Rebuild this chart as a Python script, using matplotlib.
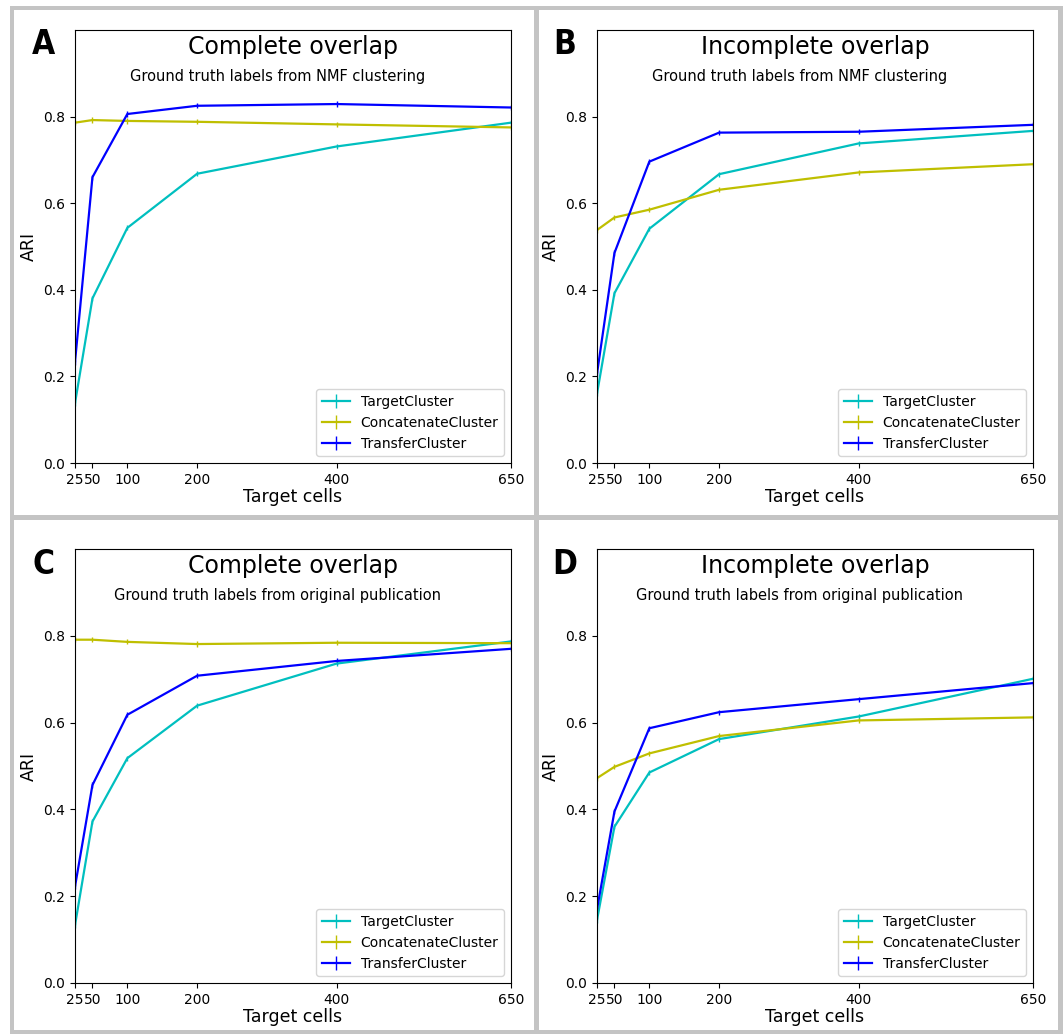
import numpy as np
import matplotlib
matplotlib.use("Agg")
import matplotlib.pyplot as plt
from matplotlib.patches import Rectangle

W, H = 1063, 1034

cells = [25, 50, 100, 200, 400, 650]
cell_labels = ["25", "50", "100", "200", "400", "650"]
methods = ["TargetCluster", "ConcatenateCluster", "TransferCluster"]
colors = ["c", "y", "b"]

letters = ["A", "B", "C", "D"]
titles = ["Complete overlap", "Incomplete overlap", "Complete overlap", "Incomplete overlap"]
subtitles = ["Ground truth labels from NMF clustering",
             "Ground truth labels from NMF clustering",
             "Ground truth labels from original publication",
             "Ground truth labels from original publication"]

# ARI per panel, order: target, concatenate, transfer
ari_A = [[0.138, 0.380, 0.543, 0.668, 0.731, 0.786],
         [0.786, 0.792, 0.790, 0.788, 0.782, 0.775],
         [0.233, 0.660, 0.806, 0.825, 0.829, 0.821]]
ari_B = [[0.160, 0.392, 0.541, 0.667, 0.738, 0.767],
         [0.538, 0.567, 0.585, 0.631, 0.671, 0.690],
         [0.206, 0.485, 0.696, 0.763, 0.765, 0.781]]
ari_C = [[0.133, 0.372, 0.518, 0.639, 0.736, 0.787],
         [0.791, 0.791, 0.786, 0.781, 0.784, 0.783],
         [0.222, 0.456, 0.618, 0.708, 0.742, 0.770]]
ari_D = [[0.145, 0.360, 0.485, 0.562, 0.614, 0.701],
         [0.472, 0.498, 0.529, 0.569, 0.605, 0.612],
         [0.170, 0.395, 0.587, 0.624, 0.654, 0.691]]
err = 0.006

panels = [ari_A, ari_B, ari_C, ari_D]

fig = plt.figure(figsize=(W / 100, H / 100), dpi=100)


def px_rect(x0, y0, x1, y1):
    # pixel box (top-left origin) -> figure fraction
    return [x0 / W, 1 - y1 / H, (x1 - x0) / W, (y1 - y0) / H]


# grey frame around the panels
grey = "#c4c4c4"
for (x0, y0, x1, y1) in [(10, 6, 1063, 10), (10, 6, 14, 1034), (1058, 6, 1063, 1034),
                         (534, 6, 539, 1034), (10, 515, 1063, 520), (10, 1030, 1063, 1034)]:
    r = px_rect(x0, y0, x1, y1)
    fig.add_artist(Rectangle((r[0], r[1]), r[2], r[3], transform=fig.transFigure,
                             facecolor=grey, edgecolor="none"))

boxes = [(75, 30, 511, 463), (597, 30, 1033, 463),
         (75, 549, 511, 983), (597, 549, 1033, 983)]

for i in range(4):
    ax = fig.add_axes(px_rect(*boxes[i]))
    for k in range(3):
        ax.errorbar(cells, panels[i][k], yerr=err, color=colors[k], lw=1.6,
                    elinewidth=1.0, label=methods[k])
    ax.set_xlim(25, 650)
    ax.set_ylim(0, 1.0)
    ax.set_xticks(cells)
    ax.set_xticklabels(cell_labels)
    ax.set_yticks([0.0, 0.2, 0.4, 0.6, 0.8])
    ax.tick_params(labelsize=10)
    ax.set_xlabel("Target cells", fontsize=12.5, labelpad=1)
    ax.set_ylabel("ARI", fontsize=12.5)
    ax.text(0.5, 0.96, titles[i], transform=ax.transAxes, ha="center", va="center",
            fontsize=17)
    ax.text(0.465, 0.892, subtitles[i], transform=ax.transAxes, ha="center",
            va="center", fontsize=10.5)
    ax.legend(loc="lower right", fontsize=10)
    bx = boxes[i]
    fig.text((bx[0] - 32) / W, 1 - (bx[1] + 15) / H, letters[i], ha="center",
             va="center", fontsize=24, fontweight="bold", fontstretch="condensed",
             family=["Liberation Sans Narrow", "DejaVu Sans"])

fig.savefig("out.png", dpi=100)
